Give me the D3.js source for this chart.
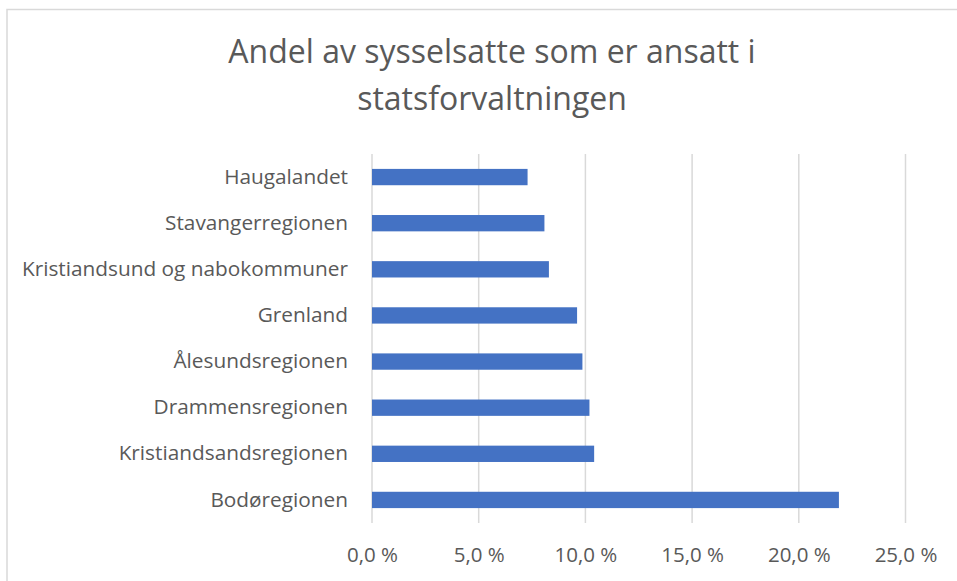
<!DOCTYPE html>
<html lang="no">

<head>
	<meta charset="UTF-8">
	<title>statsforvaltningen</title>
	<script type="text/javascript" src="https://cdn.jsdelivr.net/npm/d3@7/dist/d3.min.js" charset="UTF-8"></script>
	<style>
		body { margin: 0; background: #fff; }
		text { font-family: "Open Sans", sans-serif; fill: #595959; }
	</style>
</head>

<body>
	<script type="text/javascript">
	// regions, top to bottom as drawn
	let regions = [
		'Haugalandet',
		'Stavangerregionen',
		'Kristiandsund og nabokommuner',
		'Grenland',
		'Ålesundsregionen',
		'Drammensregionen',
		'Kristiandsandsregionen',
		'Bodøregionen'
	]
	// share of employed in state administration (fraction)
	let shares = [0.0729, 0.0808, 0.0829, 0.0961, 0.0986, 0.1019, 0.1041, 0.2188]
	let xTicks = [0, 0.05, 0.10, 0.15, 0.20, 0.25]
	let titleLines = ['Andel av sysselsatte som er ansatt i', 'statsforvaltningen']

	let width = 957,
		height = 581

	let svg = d3.select('body').append('svg')
		.attr('width', width)
		.attr('height', height)

	// chart frame
	svg.append('rect')
		.attr('x', 7)
		.attr('y', 9.5)
		.attr('width', width + 20)
		.attr('height', height + 20)
		.attr('fill', '#fff')
		.attr('stroke', '#d9d9d9')
		.attr('stroke-width', 1.5)

	let x = d3.scaleLinear()
		.domain([0, 0.25])
		.range([372, 905.5])

	let y = d3.scaleBand()
		.domain(regions)
		.range([154, 523])
		.paddingInner(0.646)
		.paddingOuter(0.323)

	// title
	svg.append('g').selectAll('text')
		.data(titleLines)
		.enter()
		.append('text')
		.attr('x', 492)
		.attr('y', (d, i) => 50 + i * 47)
		.attr('text-anchor', 'middle')
		.attr('dominant-baseline', 'central')
		.style('font-size', '32px')
		.text(d => d)

	// gridlines
	svg.append('g').selectAll('line')
		.data(xTicks)
		.enter()
		.append('line')
		.attr('x1', d => x(d))
		.attr('x2', d => x(d))
		.attr('y1', 154)
		.attr('y2', 523)
		.attr('stroke', '#d9d9d9')
		.attr('stroke-width', 1.5)

	// bars
	svg.append('g').selectAll('rect')
		.data(regions)
		.enter()
		.append('rect')
		.attr('x', x(0))
		.attr('y', d => y(d))
		.attr('width', (d, i) => x(shares[i]) - x(0))
		.attr('height', y.bandwidth())
		.attr('fill', '#4472c4')

	// category axis
	let yAxis = svg.append('g')
		.attr('transform', 'translate(' + x(0) + ',0)')
		.call(d3.axisLeft(y).tickSize(0).tickPadding(24))
	yAxis.select('.domain').remove()
	yAxis.selectAll('text')
		.style('font-size', '20.8px')
		.style('fill', '#595959')
		.attr('font-family', null)

	// value axis
	let fmt = d => d3.format('.1f')(d * 100).replace('.', ',') + ' %'
	let xAxis = svg.append('g')
		.attr('transform', 'translate(0,523)')
		.call(d3.axisBottom(x).tickValues(xTicks).tickFormat(fmt).tickSize(0).tickPadding(24))
	xAxis.select('.domain').remove()
	xAxis.selectAll('text')
		.style('font-size', '20.5px')
		.style('fill', '#595959')
		.attr('font-family', null)
	</script>
</body>

</html>
